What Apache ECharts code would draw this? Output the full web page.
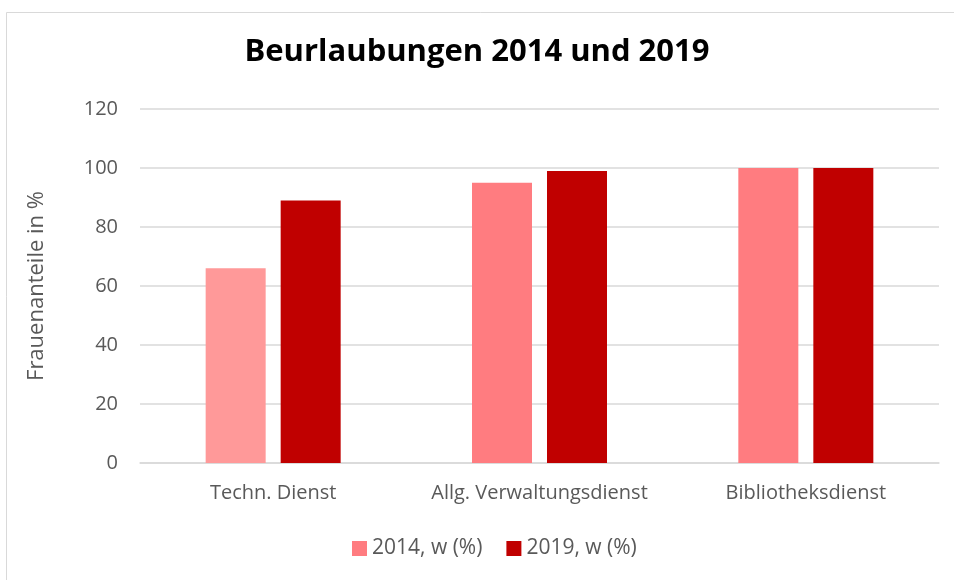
<!DOCTYPE html>
<html>
<head>
<meta charset="utf-8">
<script src="https://cdn.jsdelivr.net/npm/echarts@6/dist/echarts.min.js"></script>
<style>html,body{margin:0;padding:0;background:#fff;}#c{width:954px;height:580px;}</style>
</head>
<body>
<div id="c"></div>
<script>
const categories = ['Techn. Dienst', 'Allg. Verwaltungsdienst', 'Bibliotheksdienst'];
const seriesNames = ['2014, w (%)', '2019, w (%)'];
const values2014 = [66, 95, 100];
const values2019 = [89, 99, 100];
const yTicks = [0, 20, 40, 60, 80, 100, 120];

const colors2014 = ['#FF9999', '#FF7C80', '#FF7C80'];
const color2019 = '#C00000';

const chart = echarts.init(document.getElementById('c'));
const font = "'Open Sans', 'Noto Sans', sans-serif";
chart.setOption({
  animation: false,
  backgroundColor: '#fff',
  graphic: [{
    type: 'rect', left: 4, top: 10,
    shape: { width: 960, height: 580 },
    style: { fill: 'none', stroke: '#d9d9d9', lineWidth: 1 },
    silent: true, z: -1
  }],
  title: {
    text: 'Beurlaubungen 2014 und 2019',
    left: 'center', top: 32,
    textStyle: { fontFamily: font, fontWeight: 'bold', fontSize: 31, color: '#000' }
  },
  legend: {
    bottom: 16, left: 347,
    itemWidth: 15, itemHeight: 15, itemGap: 24, itemStyle: { borderWidth: 0 },
    icon: 'rect',
    textStyle: { fontFamily: font, fontSize: 21, color: '#595959' },
    data: [
      { name: seriesNames[0], itemStyle: { color: '#FF7C80' } },
      { name: seriesNames[1], itemStyle: { color: color2019 } }
    ]
  },
  grid: { left: 140, right: 15, top: 109, bottom: 117 },
  xAxis: {
    type: 'category', data: categories,
    axisLine: { lineStyle: { color: '#d9d9d9', width: 1.5 } },
    axisTick: { show: false },
    axisLabel: { fontFamily: font, fontSize: 20, color: '#595959', margin: 20, interval: 0 }
  },
  yAxis: {
    type: 'value', min: yTicks[0], max: yTicks[yTicks.length - 1], interval: 20,
    name: 'Frauenanteile in %', nameLocation: 'middle', nameGap: 92,
    nameTextStyle: { fontFamily: font, fontSize: 22, color: '#595959' },
    axisLine: { show: false }, axisTick: { show: false },
    axisLabel: { fontFamily: font, fontSize: 20, color: '#595959', margin: 22 },
    splitLine: { lineStyle: { color: '#d9d9d9', width: 1.5 } }
  },
  series: [
    {
      name: seriesNames[0], type: 'bar', barWidth: 60, barGap: '25%',
      itemStyle: { color: '#FF7C80' },
      data: values2014.map((v, i) => ({ value: v, itemStyle: { color: colors2014[i] } }))
    },
    {
      name: seriesNames[1], type: 'bar', barWidth: 60, barGap: '25%',
      itemStyle: { color: color2019 },
      data: values2019
    }
  ]
});
</script>
</body>
</html>
